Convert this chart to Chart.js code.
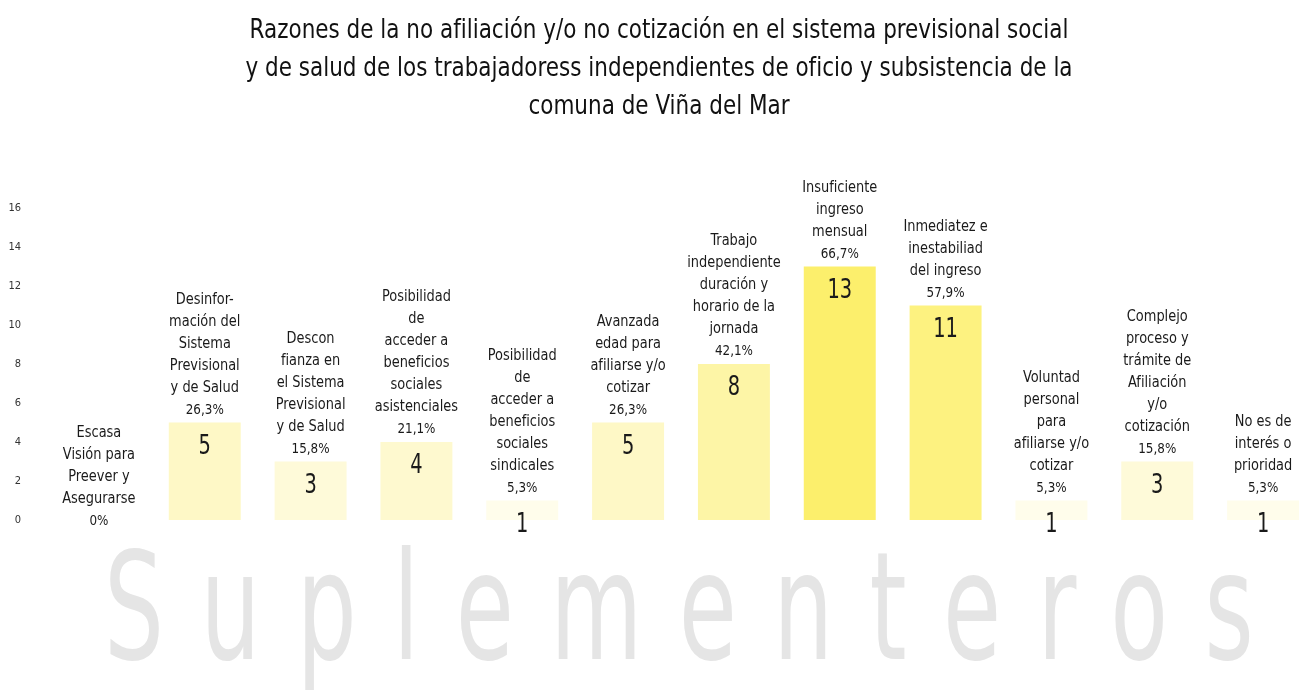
<!DOCTYPE html>
<html lang="es">
<head>
<meta charset="utf-8">
<title>Razones de la no afiliación</title>
<script src="https://cdn.jsdelivr.net/npm/chart.js@4.4.1/dist/chart.umd.min.js"></script>
<style>
  html, body { margin: 0; padding: 0; background: #fff; overflow: hidden; }
  #wrap { position: relative; width: 1318px; height: 697px; }
  #mark {
    position: absolute; left: 104px; top: 532px;
    font-family: 'DejaVu Sans Condensed', 'DejaVu Sans', sans-serif;
    font-size: 150px; letter-spacing: 52px; color: #e5e5e5; white-space: nowrap;
    line-height: 1; transform: scaleX(0.7); transform-origin: left top;
  }
  canvas { position: absolute; left: 0; top: 0; }
</style>
</head>
<body>
<div id="wrap">
  <div id="mark">Suplementeros</div>
  <canvas id="chart" width="1318" height="697"></canvas>
</div>
<script>
// Razones de la no afiliación — bar chart with stacked text labels over each bar.
const TITLE = [
    'Razones de la no afiliación y/o no cotización en el sistema previsional social',
    'y de salud de los trabajadoress independientes de oficio y subsistencia de la',
    'comuna de Viña del Mar'
];

const categories = [
    ['Escasa', 'Visión para', 'Preever y', 'Asegurarse'],
    ['Desinfor-', 'mación del', 'Sistema', 'Previsional', 'y de Salud'],
    ['Descon', 'fianza en', 'el Sistema', 'Previsional', 'y de Salud'],
    ['Posibilidad', 'de', 'acceder a', 'beneficios', 'sociales', 'asistenciales'],
    ['Posibilidad', 'de', 'acceder a', 'beneficios', 'sociales', 'sindicales'],
    ['Avanzada', 'edad para', 'afiliarse y/o', 'cotizar'],
    ['Trabajo', 'independiente', 'duración y', 'horario de la', 'jornada'],
    ['Insuficiente', 'ingreso', 'mensual'],
    ['Inmediatez e', 'inestabiliad', 'del ingreso'],
    ['Voluntad', 'personal', 'para', 'afiliarse y/o', 'cotizar'],
    ['Complejo', 'proceso y', 'trámite de', 'Afiliación', 'y/o', 'cotización'],
    ['No es de', 'interés o', 'prioridad']
];
const counts = [0, 5, 3, 4, 1, 5, 8, 13, 11, 1, 3, 1];
const percents = ['0%', '26,3%', '15,8%', '21,1%', '5,3%', '26,3%', '42,1%', '66,7%', '57,9%', '5,3%', '15,8%', '5,3%'];
const barColors = ['#fffdeb', '#fef8c6', '#fefad9', '#fef9cf', '#fffdeb', '#fef8c6',
                   '#fdf5a6', '#fcef6c', '#fdf280', '#fffdeb', '#fefad9', '#fffdeb'];
const yTicks = [0, 2, 4, 6, 8, 10, 12, 14, 16];

(() => {
    'use strict';

    const FONT = "'DejaVu Sans Condensed', 'DejaVu Sans', sans-serif";
    const TEXT = '#1a1a1a';

    // the reference face is narrower than anything installed, so squeeze it a bit
    function narrowText(ctx, str, x, y, sx) {
        ctx.save();
        ctx.translate(x, y);
        ctx.scale(sx, 1);
        ctx.fillText(str, 0, 0);
        ctx.restore();
    }

    const titleText = {
        id: 'titleText',
        afterDraw(chart) {
            const { ctx, width } = chart;
            ctx.save();
            ctx.textAlign = 'center';
            ctx.textBaseline = 'middle';
            ctx.fillStyle = '#111';
            ctx.font = `27px ${FONT}`;
            TITLE.forEach((line, i) => narrowText(ctx, line, width / 2, 31 + i * 38, 0.886));
            ctx.restore();
        }
    };

    // text above each bar (category lines + percent) and the count inside the bar
    const barText = {
        id: 'barText',
        afterDatasetsDraw(chart) {
            const { ctx, chartArea } = chart;
            const meta = chart.getDatasetMeta(0);
            ctx.save();
            ctx.textAlign = 'center';
            ctx.textBaseline = 'alphabetic';
            ctx.fillStyle = TEXT;
            meta.data.forEach((bar, i) => {
                const top = bar.y;
                let base = counts[i] === 0 ? chartArea.bottom + 5 : top - 9;
                ctx.font = `14px ${FONT}`;
                narrowText(ctx, percents[i], bar.x, base, 0.95);
                base -= 22;
                ctx.font = `16px ${FONT}`;
                const lines = categories[i];
                for (let k = lines.length - 1; k >= 0; k--) {
                    narrowText(ctx, lines[k], bar.x, base, 0.9);
                    base -= 22;
                }
                if (counts[i] > 0) {
                    ctx.font = `27px ${FONT}`;
                    narrowText(ctx, String(counts[i]), bar.x, top + 31, 0.8);
                }
            });
            ctx.restore();
        }
    };

    new Chart(document.getElementById('chart'), {
        type: 'bar',
        data: {
            labels: categories,
            datasets: [{
                data: counts,
                backgroundColor: barColors,
                borderWidth: 0,
                categoryPercentage: 0.8,
                barPercentage: 0.85
            }]
        },
        options: {
            responsive: false,
            animation: false,
            layout: { padding: { left: 0, right: 2, top: 208, bottom: 177 } },
            plugins: {
                legend: { display: false },
                tooltip: { enabled: false },
                title: { display: false }
            },
            scales: {
                x: { display: false },
                y: {
                    min: 0,
                    max: 16,
                    afterBuildTicks: axis => { axis.ticks = yTicks.map(v => ({ value: v })); },
                    afterFit: axis => { axis.width = 46; },
                    border: { display: false },
                    grid: { display: false, drawTicks: false },
                    ticks: { color: '#333', padding: 25, font: { family: FONT, size: 11 } }
                }
            }
        },
        plugins: [barText, titleText]
    });
})();
</script>
</body>
</html>
